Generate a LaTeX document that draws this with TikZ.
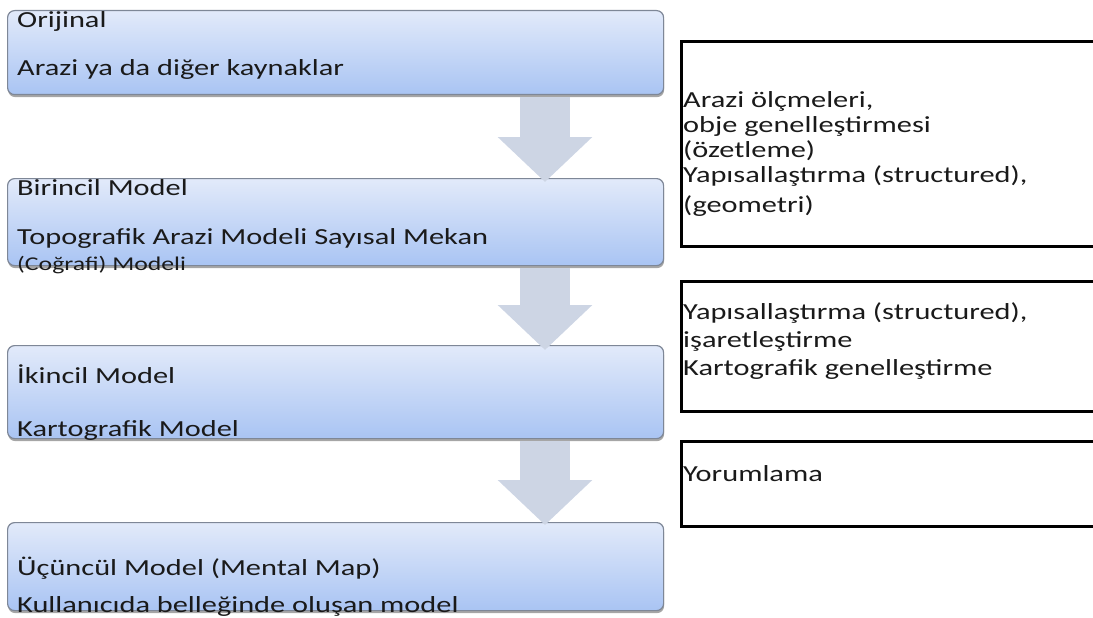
\documentclass[tikz,border=0pt]{standalone}
\usepackage{fontspec}
\setmainfont{Carlito}[FakeStretch=1.32]
\usetikzlibrary{arrows.meta,shadows,calc}
\definecolor{boxtop}{HTML}{E2EAFA}
\definecolor{boxbot}{HTML}{A9C4F3}
\definecolor{boxline}{HTML}{7E8797}
\definecolor{arrowcol}{HTML}{CDD5E4}
\definecolor{txt}{HTML}{1A1A1A}
\begin{document}
\begin{tikzpicture}[x=1pt,y=-1pt,
  bluebox/.style={draw=boxline,line width=1.2pt,rounded corners=7pt,top color=boxtop,bottom color=boxbot,
     drop shadow={shadow xshift=0.5pt,shadow yshift=-2.5pt,fill=black,opacity=0.35},inner sep=0pt},
  rbox/.style={draw=black,line width=2.6pt,inner sep=0pt},
  lt/.style={anchor=base west,inner sep=0pt,font=\fontsize{23}{25}\selectfont,text=txt},
  small/.style={anchor=base west,inner sep=0pt,font=\fontsize{19.5}{21}\selectfont,text=txt},
  bigarrow/.style={draw=arrowcol,line width=50pt,-{Triangle[width=92pt,length=45pt]}}]
\useasboundingbox (0,0) rectangle (1093,618);
\clip (0,0) rectangle (1093,618);
% left boxes
\node[bluebox,minimum width=656pt,minimum height=84pt,anchor=north west] (b1) at (7,10) {};
\node[bluebox,minimum width=656pt,minimum height=87pt,anchor=north west] (b2) at (7,178) {};
\node[bluebox,minimum width=656pt,minimum height=93pt,anchor=north west] (b3) at (7,345) {};
\node[bluebox,minimum width=656pt,minimum height=88pt,anchor=north west] (b4) at (7,522) {};
% arrows
\draw[bigarrow] ([xshift=538pt,yshift=-2pt]b1.south west) -- ([xshift=538pt,yshift=-4pt]b2.north west);
\draw[bigarrow] ([xshift=538pt,yshift=-2pt]b2.south west) -- ([xshift=538pt,yshift=-5pt]b3.north west);
\draw[bigarrow] ([xshift=538pt,yshift=-2pt]b3.south west) -- ([xshift=538pt,yshift=-3pt]b4.north west);
% left texts
\node[lt] (t1a) at (17,28) {Orijinal};
\node[lt] (t1b) at (17,76) {Arazi ya da diğer kaynaklar};
\node[lt] (t2a) at (17,195) {Birincil Model};
\node[lt] (t2b) at (17,244) {Topografik Arazi Modeli Sayısal Mekan};
\node[small] (t2c) at (17,270) {(Coğrafi) Modeli};
\node[lt] (t3a) at (17,383) {İkincil Model};
\node[lt] (t3b) at (17,436) {Kartografik Model};
\node[lt] (t4a) at (17,575) {Üçüncül Model (Mental Map)};
\node[lt] (t4b) at (17,612) {Kullanıcıda belleğinde oluşan model};
% right boxes
\node[rbox,minimum width=440pt,minimum height=205pt,anchor=north west] (r1) at (680,40) {};
\node[rbox,minimum width=440pt,minimum height=130pt,anchor=north west] (r2) at (680,280) {};
\node[rbox,minimum width=440pt,minimum height=85pt,anchor=north west] (r3) at (680,440) {};
% right texts
\node[lt] (s1a) at (683,107) {Arazi ölçmeleri,};
\node[lt] (s1b) at (683,132) {obje genelleştirmesi};
\node[lt] (s1c) at (683,157) {(özetleme)};
\node[lt] (s1d) at (683,182) {Yapısallaştırma (structured),};
\node[lt] (s1e) at (683,212) {(geometri)};
\node[lt] (s2a) at (683,319) {Yapısallaştırma (structured),};
\node[lt] (s2b) at (683,347) {işaretleştirme};
\node[lt] (s2c) at (683,375) {Kartografik genelleştirme};
\node[lt] (s3a) at (683,481) {Yorumlama};
\end{tikzpicture}
\end{document}
